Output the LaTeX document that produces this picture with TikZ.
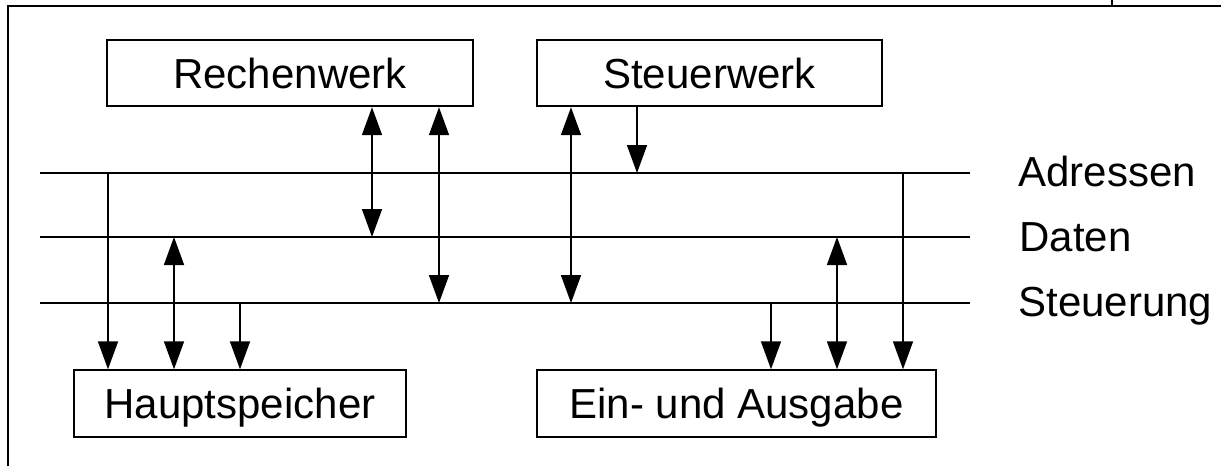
\documentclass[tikz,border=0pt]{standalone}
\usepackage{fontspec}
\setmainfont{Liberation Sans}
\usetikzlibrary{arrows.meta}
\begin{document}
\begin{tikzpicture}[x=0.5pt,y=-0.5pt,
  >={Triangle[length=14pt,width=10pt]},
  unit/.style={draw, line width=0.9pt, inner sep=0pt,
    minimum height=33.3pt, text height=15pt, text depth=0pt,
    font=\fontsize{21}{25}\selectfont},
  bus/.style={line width=0.8pt},
  link/.style={line width=0.8pt},
  frame/.style={line width=1pt},
  lbl/.style={inner sep=0pt, anchor=base west, font=\fontsize{21}{25}\selectfont}]
\useasboundingbox (0,0) rectangle (1221,466);

% outer frame
\coordinate (fbl) at (8,466);
\coordinate (ftl) at (8,6);
\coordinate (ftr) at (1221,6);
\coordinate (tick) at (1112,0);
\draw[frame] (fbl) -- (ftl) -- (ftr);
\draw[frame] (tick) -- (tick |- ftl);

% functional units
\node[unit, minimum width=183pt]   (rw) at (290,73)     {Rechenwerk};
\node[unit, minimum width=172.5pt] (sw) at (709.5,73)   {Steuerwerk};
\node[unit, minimum width=166pt]   (hs) at (240,403.5)  {Hauptspeicher};
\node[unit, minimum width=199.5pt] (ea) at (736.5,403.5){Ein- und Ausgabe};

% bus lines
\coordinate (adrL) at (40,173);  \coordinate (adrR) at (970,173);
\coordinate (datL) at (40,237);  \coordinate (datR) at (970,237);
\coordinate (stL)  at (40,303);  \coordinate (stR)  at (970,303);
\draw[bus] (adrL) -- (adrR);
\draw[bus] (datL) -- (datR);
\draw[bus] (stL) -- (stR);

% bus labels
\node[lbl] (ladr) at (1018,186) {Adressen};
\node[lbl] (ldat) at (1019,251) {Daten};
\node[lbl] (lst)  at (1018,316) {Steuerung};

% taps on the buses
\coordinate (hsA) at (108,173);
\coordinate (hsD) at (174,237);
\coordinate (hsS) at (240,303);
\coordinate (rwD) at (372,237);
\coordinate (rwS) at (439,303);
\coordinate (swS) at (571,303);
\coordinate (swA) at (637,173);
\coordinate (eaS) at (771,303);
\coordinate (eaD) at (837,237);
\coordinate (eaA) at (903,173);

% Hauptspeicher
\draw[link,->]  (hsA) -- (hsA |- hs.north);
\draw[link,<->] (hsD) -- (hsD |- hs.north);
\draw[link,->]  (hsS) -- (hsS |- hs.north);
% Rechenwerk
\draw[link,<->] (rwD |- rw.south) -- (rwD);
\draw[link,<->] (rwS |- rw.south) -- (rwS);
% Steuerwerk
\draw[link,<->] (swS |- sw.south) -- (swS);
\draw[link,->]  (swA |- sw.south) -- (swA);
% Ein- und Ausgabe
\draw[link,->]  (eaS) -- (eaS |- ea.north);
\draw[link,<->] (eaD) -- (eaD |- ea.north);
\draw[link,->]  (eaA) -- (eaA |- ea.north);
\end{tikzpicture}
\end{document}
